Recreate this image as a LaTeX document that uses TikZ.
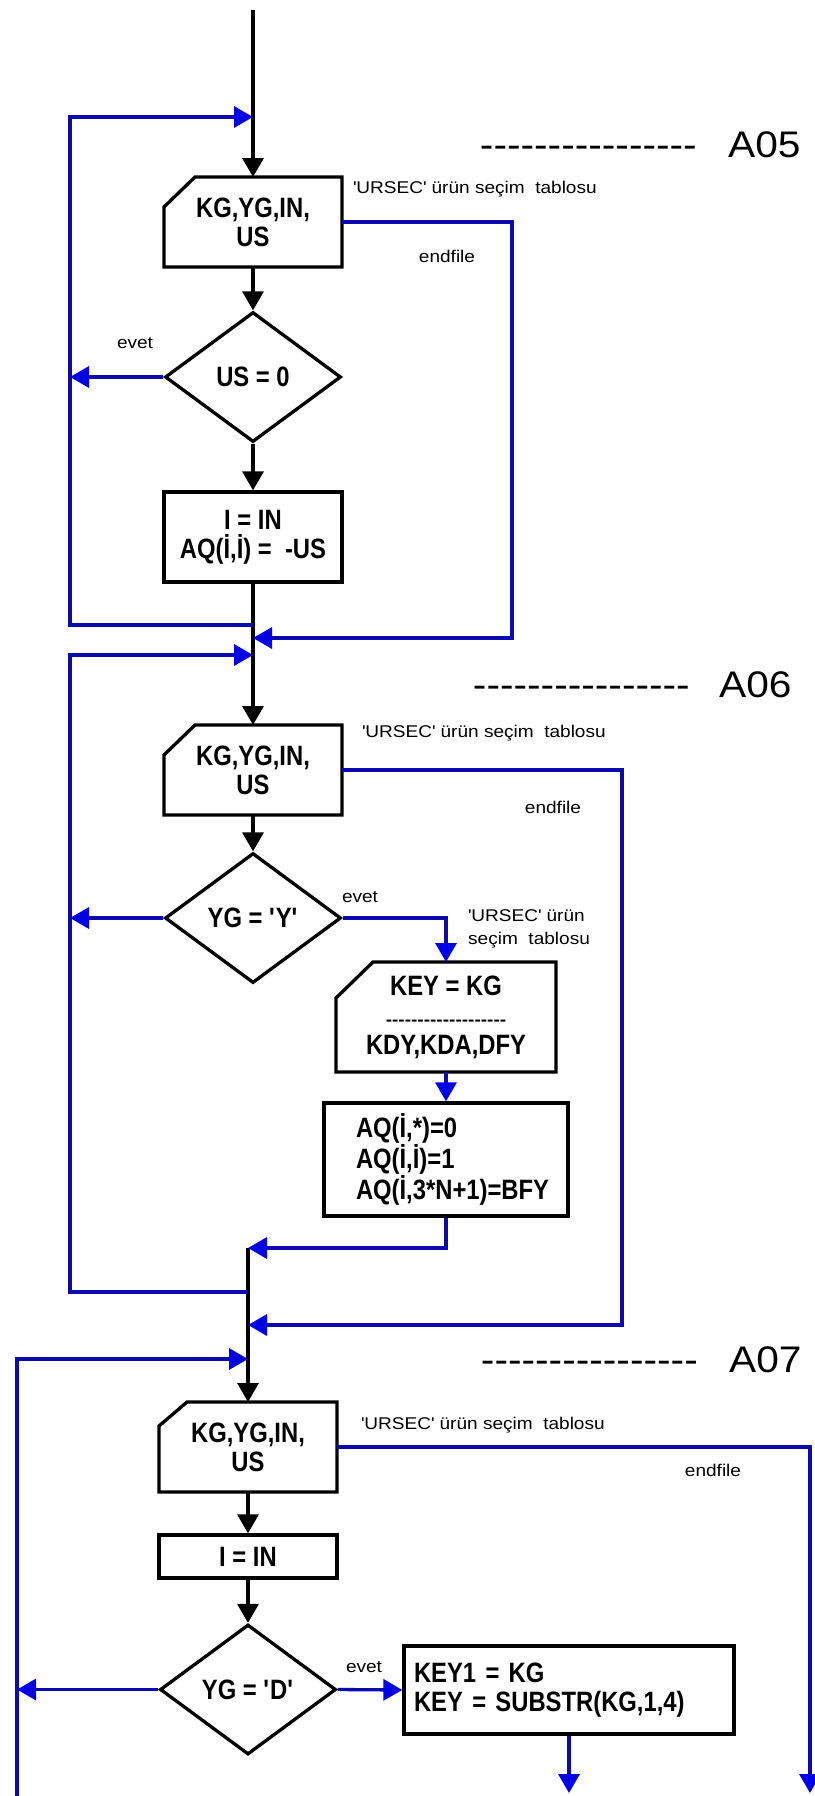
\documentclass[tikz,border=0pt]{standalone}
\usepackage{fontspec}
\setmainfont{Liberation Sans}
\newfontfamily\bxfont{Liberation Sans}[FakeStretch=0.85]
\newfontfamily\smfont{Liberation Sans}[FakeStretch=1.12]
\newfontfamily\hdfont{Liberation Sans}[FakeStretch=1.1]
\usetikzlibrary{arrows.meta,positioning,shapes.geometric}
\definecolor{lnblue}{RGB}{10,10,175}
\definecolor{hdblue}{RGB}{0,0,230}
\newcommand{\Dr}[1]{\foreach\k in{1,...,#1}{\mbox{-}}}
\newcommand{\Q}{\textquotesingle}
\newcommand{\rdbox}[3]{\draw[line width=3.3pt,line join=miter]([xshift=#2]#1.north west)--(#1.north east)--(#1.south east)--(#1.south west)--([yshift=-#3]#1.north west)--cycle;}
\tikzset{bx/.style={draw,line width=3.3pt,minimum width=178pt,minimum height=90pt,inner sep=2pt,align=center,font=\bxfont\bfseries\fontsize{28}{29}\selectfont},
 rd/.style={bx,draw=none,outer sep=0pt},
 dm/.style={diamond,draw,line width=3.3pt,minimum width=176pt,minimum height=130pt,inner sep=0pt,font=\bxfont\bfseries\fontsize{28}{29}\selectfont},
 bk/.style={line width=3.3pt,-{Triangle[length=19pt,width=21pt]}},
 bl/.style={line width=3.3pt,draw=lnblue},
 bla/.style={bl,-{Triangle[length=19pt,width=21pt,color=hdblue]}},
 nt/.style={font=\smfont\fontsize{17}{23}\selectfont,align=left,inner sep=0pt},
 hd/.style={font=\hdfont\fontsize{37}{40}\selectfont,inner sep=0pt}}
\begin{document}
\begin{tikzpicture}[x=1pt,y=-1pt]
\path[use as bounding box,fill=white](0,0)rectangle(814,1796);
\coordinate(top) at (253,10);\coordinate(c0in) at (253,117);\coordinate(lp1) at (70,117);
\node[rd](r1) at (253,222){KG,YG,IN,\\US};\rdbox{r1}{31pt}{30pt}
\node[dm](d1) at (253,377){US = 0};
\node[bx](p1) at (253,537){I = IN\\AQ(İ,İ) =\ \ -US};
\coordinate(c1a) at (253,625);\coordinate(c1b) at (253,638);\coordinate(ef1) at (512,638);
\coordinate(c1in) at (253,655);\coordinate(lp2) at (70,655);
\node[rd](r2) at (253,770){KG,YG,IN,\\US};\rdbox{r2}{31pt}{30pt}
\node[dm](d2) at (253,918){YG = \Q Y\Q};
\node[rd,minimum width=220pt,minimum height=110pt](r3) at (446,1017){KEY = KG\\[1pt]{\smfont\fontsize{17}{20}\selectfont\Dr{19}}\\KDY,KDA,DFY};\rdbox{r3}{37pt}{36pt}
\node[bx,minimum width=244pt,minimum height=113pt,text width=180pt,inner xsep=32pt,align=left](p2) at (446,1159.5){AQ(İ,*)=0\\AQ(İ,İ)=1\\AQ(İ,3*N+1)=BFY};
\coordinate(c2a) at (248,1248);\coordinate(c2b) at (248,1292);\coordinate(c2c) at (248,1325);\coordinate(ef2) at (622,1325);
\coordinate(c2in) at (248,1359);\coordinate(lp3) at (17,1796);
\node[rd](r4) at (248,1447){KG,YG,IN,\\US};\rdbox{r4}{28pt}{24pt}
\node[bx,minimum height=43pt](p3) at (248,1556.5){I = IN};
\node[dm](d3) at (248,1689.5){YG = \Q D\Q};
\node[bx,minimum width=330pt,minimum height=88pt,text width=310pt,inner xsep=10pt,align=left](p4) at (569,1690){KEY1 = KG\\KEY = SUBSTR(KG,1,4)};
\coordinate(e1) at (569,1793);\coordinate(e2) at (810,1793);
\draw[bk](top)--(r1.north);\draw[bk](r1.south)--(d1.north);\draw[bk](d1.south)--(p1.north);
\draw[bk](p1.south)--(r2.north);\draw[bk](r2.south)--(d2.north);
\draw[bk](c2a)--(r4.north);\draw[bk](r4.south)--(p3.north);\draw[bk](p3.south)--(d3.north);
\draw[bla](d1.west)--(d1.west-|lp1);\draw[bla](c1a)-|(lp1)--(c0in);\draw[bla](r1.east)-|(ef1)--(c1b);
\draw[bla](d2.west)--(d2.west-|lp2);\draw[bla](c2b)-|(lp2)--(c1in);\draw[bla](r2.east)-|(ef2)--(c2c);
\draw[bla](d2.east)-|(r3.north);\draw[bla](r3.south)--(p2.north);\draw[bla](p2.south)|-(c2a);
\draw[bla](d3.west)--(d3.west-|lp3);\draw[bla](lp3)|-(c2in);\draw[bla](r4.east)-|(e2);
\draw[bla](d3.east)--(p4.west);\draw[bla](p4.south)--(e1);
\node[hd,anchor=base east](h1) at (697,157){\Dr{16}};\node[hd,anchor=base west](a1) at (728,157){A05};
\node[hd,anchor=base east](h2) at (690,697){\Dr{16}};\node[hd,anchor=base west](a2) at (719,697){A06};
\node[hd,anchor=base east](h3) at (698,1372){\Dr{16}};\node[hd,anchor=base west](a3) at (729,1372){A07};
\node[nt,anchor=west](n1) at (353,189){\Q URSEC\Q{} ürün seçim\ \ tablosu};
\node[nt](f1) at (447,256){endfile};\node[nt](y1) at (135,343){evet};
\node[nt,anchor=west](n2) at (362,733){\Q URSEC\Q{} ürün seçim\ \ tablosu};
\node[nt](f2) at (553,807){endfile};\node[nt](y2) at (360,897){evet};
\node[nt,anchor=west](n3) at (468,929){\Q URSEC\Q{} ürün\\seçim\ \ tablosu};
\node[nt,anchor=west](n4) at (361,1425){\Q URSEC\Q{} ürün seçim\ \ tablosu};
\node[nt](f3) at (713,1470){endfile};\node[nt](y3) at (364,1667){evet};
\end{tikzpicture}
\end{document}
